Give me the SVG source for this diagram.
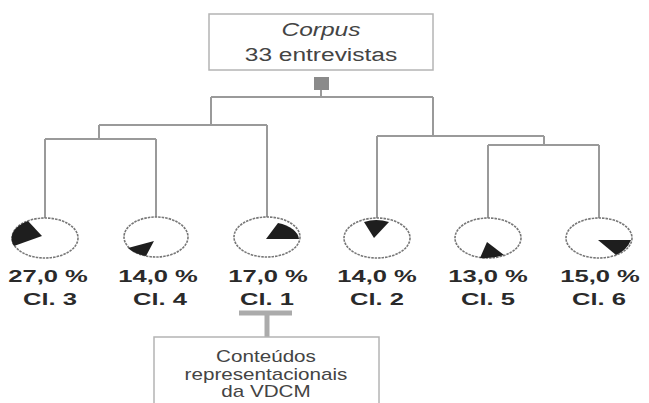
<svg xmlns="http://www.w3.org/2000/svg" width="649" height="403" viewBox="0 0 649 403">
<style>
.box{fill:#fff;stroke:#b4b4b4;stroke-width:1.5}
.tree{fill:none;stroke:#9a9a9a;stroke-width:2}
.pie{fill:#fff;stroke:#777;stroke-width:1.6;stroke-dasharray:2.5 1}
.wedge{fill:#1e1e1e}
.top{font-family:"Liberation Sans",Arial,sans-serif;font-size:19px;fill:#444;text-anchor:middle}
.lbl{font-family:"Liberation Sans",Arial,sans-serif;font-size:16.5px;font-weight:bold;fill:#2a2a2a;text-anchor:middle}
.bot{font-family:"Liberation Sans",Arial,sans-serif;font-size:16px;fill:#444;text-anchor:middle}
.tbar{stroke:#ababab;stroke-width:5;fill:none}
</style>
<rect width="649" height="403" fill="#fff"/>
<g id="corpus">
<rect class="box" x="209" y="14" width="224" height="56"/>
<text class="top" font-style="italic" transform="translate(321,36) scale(1.29,1)">Corpus</text>
<text class="top" transform="translate(321,61) scale(1.29,1)">33 entrevistas</text>
<rect x="314" y="77" width="15" height="13" fill="#8a8a8a"/>
</g>
<g id="connectors">
<path class="tree" d="M321,90 V97 M211,97 H433 M211,97 V125 M99,125 H267 M99,125 V139 M45,139 H156 M45,139 V218 M156,139 V218 M267,125 V218 M433,97 V136 M377,136 H544 M377,136 V222 M544,136 V145 M488,145 H599 M488,145 V218 M599,145 V218"/>
<path class="tbar" d="M239,313 H292 M267,313 V337"/>
</g>
<g id="cl3">
<ellipse class="pie" cx="45" cy="238" rx="33" ry="20"/>
<path class="wedge" d="M42,236 L14,246 A33,20 0 0 1 28,221 Z"/>
<text class="lbl" transform="translate(48,282) scale(1.55,1)">27,0 %</text>
<text class="lbl" transform="translate(50,305) scale(1.55,1)">Cl. 3</text>
</g>
<g id="cl4">
<ellipse class="pie" cx="156" cy="237" rx="32" ry="20"/>
<path class="wedge" d="M154,241 L128,248 A32,20 0 0 0 146,256 Z"/>
<text class="lbl" transform="translate(158,282) scale(1.55,1)">14,0 %</text>
<text class="lbl" transform="translate(160,305) scale(1.55,1)">Cl. 4</text>
</g>
<g id="cl1">
<ellipse class="pie" cx="267" cy="237" rx="33" ry="20"/>
<path class="wedge" d="M266,239 L299,239 A32,18 0 0 0 278,223 Z"/>
<text class="lbl" transform="translate(268,282) scale(1.55,1)">17,0 %</text>
<text class="lbl" transform="translate(267,305) scale(1.55,1)">Cl. 1</text>
</g>
<g id="cl2">
<ellipse class="pie" cx="377" cy="238" rx="33" ry="20"/>
<path class="wedge" d="M374,238 L364,222 Q376,218 389,222 Z"/>
<text class="lbl" transform="translate(377,282) scale(1.55,1)">14,0 %</text>
<text class="lbl" transform="translate(377,305) scale(1.55,1)">Cl. 2</text>
</g>
<g id="cl5">
<ellipse class="pie" cx="488" cy="238" rx="33" ry="20"/>
<path class="wedge" d="M487,242 L480,258 Q492,259 504,255 Z"/>
<text class="lbl" transform="translate(488,282) scale(1.55,1)">13,0 %</text>
<text class="lbl" transform="translate(488,305) scale(1.55,1)">Cl. 5</text>
</g>
<g id="cl6">
<ellipse class="pie" cx="599" cy="238" rx="33" ry="20"/>
<path class="wedge" d="M598,240 L631,240 Q627,250 616,255 Z"/>
<text class="lbl" transform="translate(600,282) scale(1.55,1)">15,0 %</text>
<text class="lbl" transform="translate(599,305) scale(1.55,1)">Cl. 6</text>
</g>
<g id="conteudos">
<rect class="box" x="154" y="337" width="225" height="80"/>
<text class="bot" transform="translate(266,362) scale(1.29,1)">Conteúdos</text>
<text class="bot" transform="translate(266,380) scale(1.29,1)">representacionais</text>
<text class="bot" transform="translate(266,397) scale(1.29,1)">da VDCM</text>
</g>
</svg>
